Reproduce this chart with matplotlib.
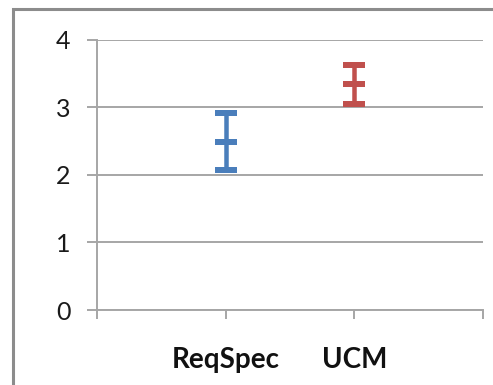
import matplotlib
matplotlib.use("Agg")
import matplotlib.pyplot as plt
from matplotlib.patches import Rectangle

# Data: mean with low/high range for each method
categories = ["ReqSpec", "UCM"]
means = [2.48, 3.34]
lows = [2.07, 3.04]
highs = [2.91, 3.63]
colors = ["#4A7EBB", "#C0504D"]
y_ticks = [0, 1, 2, 3, 4]

W, H, DPI = 493, 385, 100
fig = plt.figure(figsize=(W / DPI, H / DPI), dpi=DPI)
plt.rcParams['font.family'] = ['Lato', 'DejaVu Sans']

# outer chart-area frame
fig.patches.append(Rectangle((12.5 / W, -0.05), 1.2, 1 - 8.5 / H + 0.05,
                             transform=fig.transFigure, fill=False,
                             edgecolor="#8C8C8C", linewidth=2.2, zorder=0))

ax = fig.add_axes([97 / W, (H - 310) / H, (483 - 97) / W, (310 - 39.5) / H])

xs = [i + 1 for i in range(len(categories))]
px_pt = 72 / DPI
for x, m, lo, hi, c in zip(xs, means, lows, highs, colors):
    ax.errorbar([x], [m], yerr=[[m - lo], [hi - m]], fmt="none",
                ecolor=c, elinewidth=4.5 * px_pt, capsize=11 * px_pt,
                capthick=6 * px_pt, zorder=3)
    ax.plot([x], [m], marker="_", markersize=22 * px_pt,
            markeredgewidth=6 * px_pt, color=c, zorder=3)

ax.set_xlim(0, len(categories) + 1)
ax.set_ylim(0, 4)
ax.set_yticks(y_ticks)
ax.set_yticklabels([str(t) for t in y_ticks])
ax.set_xticks(range(len(categories) + 2))
ax.set_xticklabels([""] + categories + [""], fontweight="bold")

grid_c = "#A6A6A6"
ax.yaxis.grid(True, color=grid_c, linewidth=1.4)
ax.set_axisbelow(True)
for s in ["top", "right"]:
    ax.spines[s].set_visible(False)
for s in ["left", "bottom"]:
    ax.spines[s].set_color(grid_c)
    ax.spines[s].set_linewidth(1.4)

ax.tick_params(axis="y", length=10 * px_pt, width=1.4, color=grid_c,
               labelsize=18, pad=12, labelcolor="#1A1A1A")
ax.tick_params(axis="x", length=9 * px_pt, width=1.4, color=grid_c,
               labelsize=20, pad=20, labelcolor="#111111")

fig.savefig("out.png", dpi=DPI, facecolor="white")
